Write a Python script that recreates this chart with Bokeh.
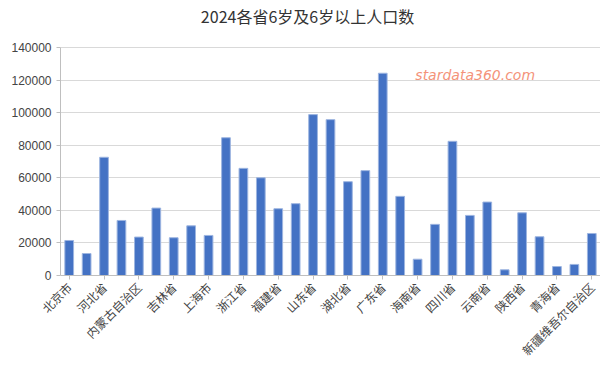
import math
from bokeh.plotting import figure
from bokeh.models import ColumnDataSource, FixedTicker, Label, Range1d
from bokeh.embed import file_html
from bokeh.resources import INLINE

provinces = ["北京市", "天津市", "河北省", "山西省", "内蒙古自治区", "辽宁省", "吉林省", "黑龙江省",
             "上海市", "江苏省", "浙江省", "安徽省", "福建省", "江西省", "山东省", "河南省",
             "湖北省", "湖南省", "广东省", "广西壮族自治区", "海南省", "重庆市", "四川省", "贵州省",
             "云南省", "西藏自治区", "陕西省", "甘肃省", "青海省", "宁夏回族自治区", "新疆维吾尔自治区"]
population = [21500, 13500, 72600, 33800, 23600, 41400, 23200, 30500,
              24600, 84600, 65800, 60000, 41000, 44100, 98800, 95700,
              57600, 64400, 124200, 48600, 10000, 31400, 82400, 36900,
              45100, 3500, 38500, 23800, 5500, 6800, 25800]
y_ticks = [0, 20000, 40000, 60000, 80000, 100000, 120000, 140000]
title_text = "2024各省6岁及6岁以上人口数"

FONT = "Noto Sans CJK SC"
xs = list(range(len(provinces)))
src = ColumnDataSource(dict(x=xs, top=population))

# extra headroom above 140000 holds the title inside the frame
p = figure(width=600, height=367, output_backend="svg", toolbar_location=None,
           x_range=Range1d(-0.5, len(provinces) - 0.5), y_range=Range1d(0, 165800),
           min_border_left=60, min_border_right=0, min_border_top=5, min_border_bottom=5)
p.outline_line_color = None

p.vbar(x="x", top="top", width=0.5, source=src, fill_color="#4472C4", line_color="#9db5e0", line_width=1)

p.xaxis.ticker = FixedTicker(ticks=xs[::2])
p.xaxis.major_label_overrides = {i: provinces[i] for i in xs[::2]}
p.xaxis.major_label_orientation = math.pi / 4
p.xaxis.major_label_text_font = FONT
p.xaxis.major_label_text_font_size = "12px"
p.xaxis.major_label_text_color = "#444444"
p.xaxis.axis_line_color = "#bfbfbf"
p.xaxis.major_tick_line_color = "#bfbfbf"
p.xaxis.major_tick_in = 0
p.xaxis.major_tick_out = 4
p.xaxis.minor_tick_line_color = None
p.xgrid.grid_line_color = None

p.yaxis.ticker = FixedTicker(ticks=y_ticks)
p.yaxis.bounds = (0, 140000)
p.yaxis.major_label_overrides = {v: str(v) for v in y_ticks}
p.yaxis.major_label_text_font = "Liberation Sans"
p.yaxis.major_label_text_font_size = "12px"
p.yaxis.major_label_text_color = "#444444"
p.yaxis.axis_line_color = "#bfbfbf"
p.yaxis.major_tick_line_color = "#bfbfbf"
p.yaxis.major_tick_in = 0
p.yaxis.major_tick_out = 4
p.yaxis.minor_tick_line_color = None
p.ygrid.grid_line_color = "#d9d9d9"

p.add_layout(Label(x=13.68, y=159500, text=title_text, text_align="center", text_baseline="middle",
                   text_font=FONT, text_font_size="16px", text_color="#333333"))

p.add_layout(Label(x=19.87, y=118500, text="stardata360.com",
                   text_font="DejaVu Sans", text_font_style="italic", text_font_size="14px",
                   text_color="#f4937a"))

open("out.html", "w").write(file_html(p, INLINE))
